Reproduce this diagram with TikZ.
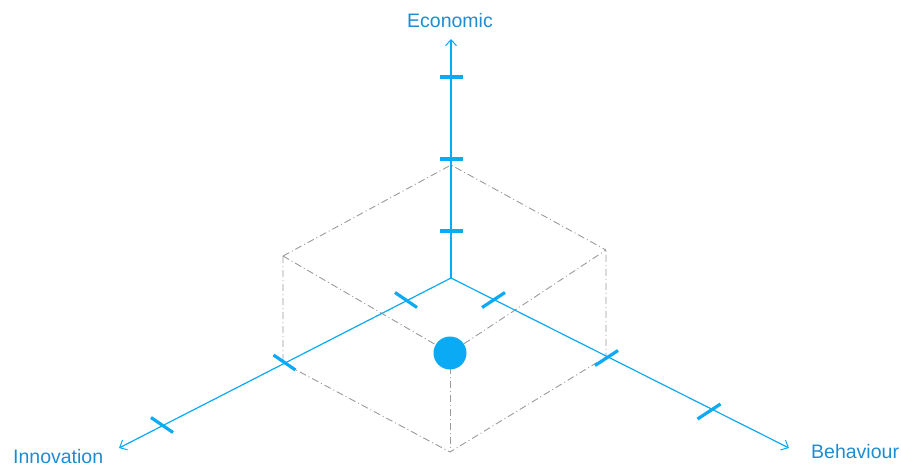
\documentclass[tikz,border=0pt]{standalone}
\usepackage{fontspec}
\setmainfont{Liberation Sans}
\usetikzlibrary{arrows.meta,calc}
\definecolor{axisblue}{HTML}{0AAAF5}
\definecolor{textblue}{HTML}{1E8CD2}
\definecolor{cubegray}{HTML}{9A9A9A}
\begin{document}
\begin{tikzpicture}[x=1pt,y=-1pt,
  axisline/.style={draw=axisblue,line width=1.2pt,-{Straight Barb[length=6pt,width=11pt,line width=1pt]}},
  tickmark/.style={draw=axisblue,line width=3.2pt},
  cubeedge/.style={draw=cubegray,line width=0.9pt,dash pattern=on 7pt off 3pt on 1pt off 3pt},
  axislabel/.style={text=textblue,font=\fontsize{19.5}{23}\selectfont,inner sep=0pt}]
\useasboundingbox (0,0) rectangle (901,466);
% cube vertices
\coordinate (T) at (451,165);
\coordinate (L) at (283,256);
\coordinate (R) at (606,250);
\coordinate (LB) at (283,363);
\coordinate (RB) at (606,357);
\coordinate (B) at (450,452);
\coordinate (F) at (450,353);
% cube edges
\draw[cubeedge] (L) -- (T) -- (R);
\draw[cubeedge] (L) -- (LB) -- (B) -- (RB) -- (R);
\draw[cubeedge] (L) -- (F) -- (R);
\draw[cubeedge] (F) -- (B);
% axes
\coordinate (O) at (451,278);
\coordinate (Etip) at (451,39);
\coordinate (Itip) at (119,448);
\coordinate (Btip) at (789,448);
\draw[axisline] (O) -- (Etip);
\draw[axisline] (O) -- (Itip);
\draw[axisline] (O) -- (Btip);
% labels
\node[axislabel] (econ) at (450,21) {Economic};
\node[axislabel,anchor=west] (innov) at (13,456.5) {Innovation};
\node[axislabel,anchor=west] (behav) at (811,452) {Behaviour};
% ticks
\coordinate (e1) at (451,231);
\coordinate (e2) at (451,159);
\coordinate (e3) at (451,77);
\coordinate (i1) at (406,300);
\coordinate (i2) at (284.5,362.5);
\coordinate (i3) at (162,425);
\coordinate (b1) at (493.5,300);
\coordinate (b2) at (606.5,358);
\coordinate (b3) at (709,411.5);
\foreach \n in {e1,e2,e3}{
  \draw[tickmark] ($(\n)+(-11.5,0)$) -- ($(\n)+(11.5,0)$);
}
\foreach \n in {i1,i2,i3}{
  \draw[tickmark] ($(\n)+(-11,-7.5)$) -- ($(\n)+(11,7.5)$);
}
\foreach \n in {b1,b2,b3}{
  \draw[tickmark] ($(\n)+(-11.5,7.5)$) -- ($(\n)+(11.5,-7.5)$);
}
% dot
\node[circle,fill=axisblue,minimum size=33pt,inner sep=0pt] (dot) at (F) {};
\end{tikzpicture}
\end{document}
